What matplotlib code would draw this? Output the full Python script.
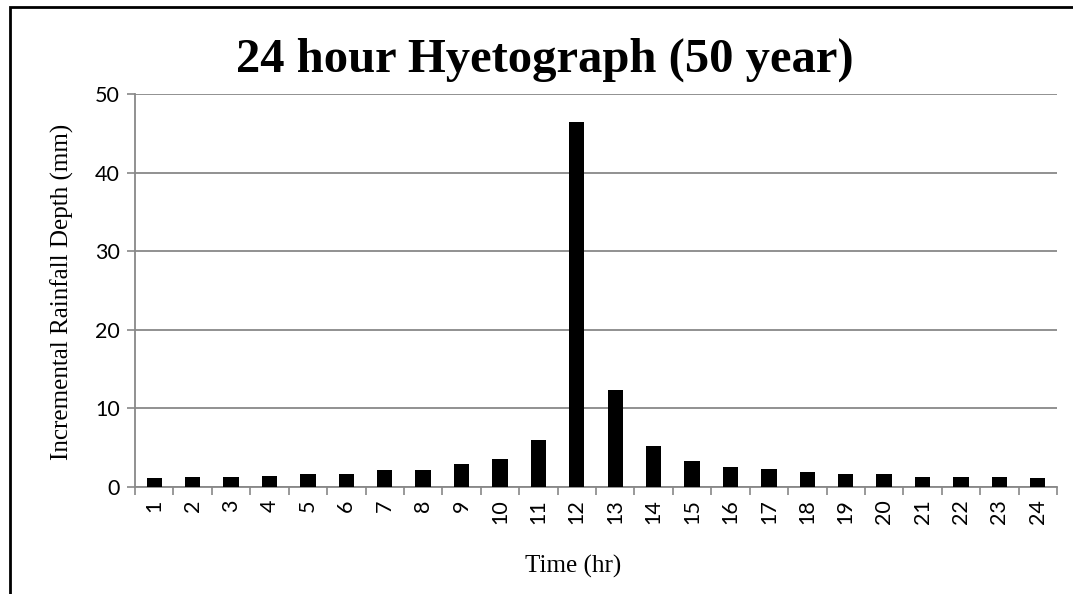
import matplotlib
matplotlib.use("Agg")
import matplotlib.pyplot as plt
from matplotlib.patches import Rectangle

hours = [str(i) for i in range(1, 25)]
rainfall = [1.1, 1.25, 1.25, 1.35, 1.65, 1.65, 2.1, 2.1, 2.9, 3.6, 6.0, 46.4,
            12.3, 5.25, 3.3, 2.6, 2.25, 1.95, 1.65, 1.6, 1.25, 1.25, 1.25, 1.1]
yticks = [0, 10, 20, 30, 40, 50]

W, H = 1073, 594
fig = plt.figure(figsize=(W / 100, H / 100), dpi=100)
ax = fig.add_axes([135 / W, 1 - 487 / H, (1057 - 135) / W, (487 - 94) / H])

x = list(range(len(hours)))
ax.bar(x, rainfall, width=0.4, color="black", zorder=3)
ax.set_xlim(-0.5, len(hours) - 0.5)
ax.set_ylim(0, 50)
ax.set_yticks(yticks)
ax.set_xticks(x)
ax.set_xticklabels(hours, rotation=90, fontfamily="Lato", fontsize=15.5)
ax.set_yticklabels([str(v) for v in yticks], fontfamily="Lato", fontsize=15.5)

# category boundary ticks
ax.set_xticks([i - 0.5 for i in range(len(hours) + 1)], minor=True)
ax.tick_params(axis="x", which="major", length=0, pad=9)
ax.tick_params(axis="x", which="minor", length=6, color="#888888", width=1.2)
ax.tick_params(axis="y", length=6, color="#888888", width=1.2, pad=5)

ax.grid(axis="y", color="#888888", linewidth=1.3, zorder=0)
for s in ["top", "right"]:
    ax.spines[s].set_visible(False)
for s in ["left", "bottom"]:
    ax.spines[s].set_color("#888888")
    ax.spines[s].set_linewidth(1.3)

fig.text(545 / W, 1 - 60 / H, "24 hour Hyetograph (50 year)", ha="center", va="center",
         fontfamily="Liberation Serif", fontweight="bold", fontsize=35)
fig.text(573 / W, 1 - 566 / H, "Time (hr)", ha="center", va="center",
         fontfamily="Liberation Serif", fontsize=18)
fig.text(62 / W, 1 - 292 / H, "Incremental Rainfall Depth (mm)", ha="center", va="center",
         rotation=90, fontfamily="Liberation Serif", fontsize=18)

fig.patches.append(Rectangle((10 / W, -0.1), 1.2, 1 - 7 / H + 0.1, transform=fig.transFigure,
                             fill=False, edgecolor="black", linewidth=2))

fig.savefig("out.png", dpi=100)
